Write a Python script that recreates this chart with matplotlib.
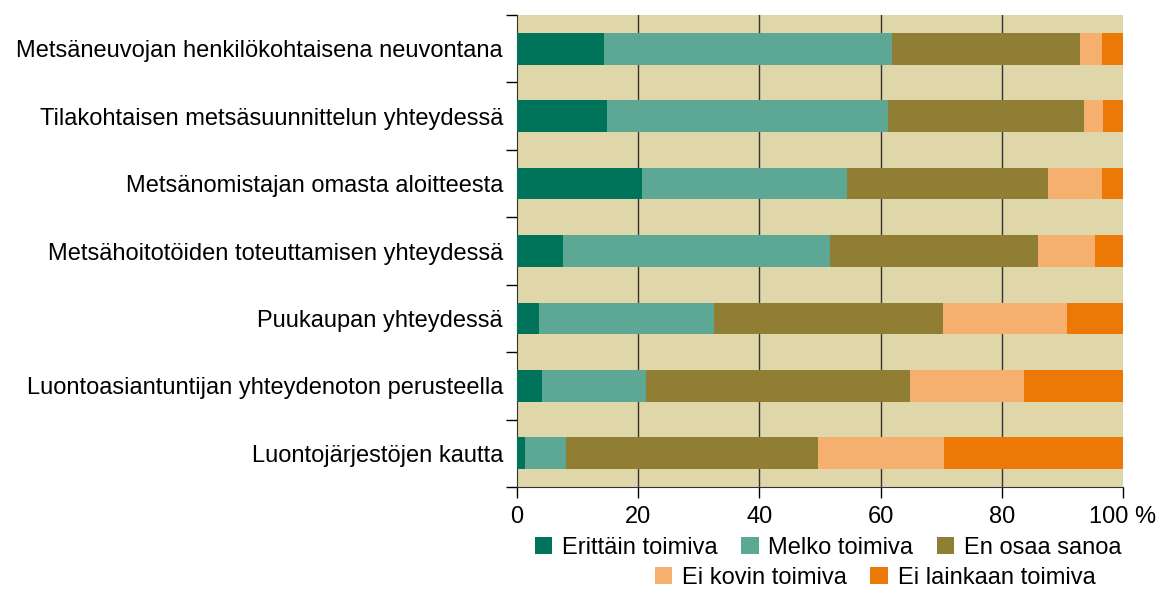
import matplotlib.pyplot as plt
import numpy as np
from matplotlib.patches import Patch

plt.rcParams['font.family'] = ['Liberation Sans', 'DejaVu Sans']

# kategoriat ylhäältä alas
categories = [
    'Metsäneuvojan henkilökohtaisena neuvontana',
    'Tilakohtaisen metsäsuunnittelun yhteydessä',
    'Metsänomistajan omasta aloitteesta',
    'Metsähoitotöiden toteuttamisen yhteydessä',
    'Puukaupan yhteydessä',
    'Luontoasiantuntijan yhteydenoton perusteella',
    'Luontojärjestöjen kautta',
]
series_names = ['Erittäin toimiva', 'Melko toimiva', 'En osaa sanoa',
                'Ei kovin toimiva', 'Ei lainkaan toimiva']
erittain = [14.4, 14.8, 20.6, 7.6, 3.6, 4.1, 1.4]
melko = [47.5, 46.4, 33.8, 44.0, 28.9, 17.2, 6.7]
en_osaa = [31.0, 32.4, 33.2, 34.3, 37.8, 43.5, 41.5]
ei_kovin = [3.6, 3.1, 8.9, 9.4, 20.4, 18.9, 20.9]
ei_lainkaan = [3.5, 3.3, 3.5, 4.7, 9.3, 16.3, 29.5]
colors = ['#00745a', '#5da894', '#8f7e34', '#f5b070', '#ec7805']
x_ticks = [0, 20, 40, 60, 80, 100]
x_ticklabels = ['0', '20', '40', '60', '80', '100 %']

data = [erittain, melko, en_osaa, ei_kovin, ei_lainkaan]
y = np.arange(len(categories))
fs = 17

fig = plt.figure(figsize=(11.66, 5.9), dpi=100)
ax = fig.add_axes([517/1166, 1-487/590, (1123-517)/1166, (487-15)/590])
ax.set_facecolor('#dfd7a9')

left = np.zeros(len(categories))
for vals, c, name in zip(data, colors, series_names):
    ax.barh(y, vals, left=left, height=0.47, color=c, label=name, zorder=3)
    left += np.array(vals)

ax.set_xlim(0, 100)
ax.set_ylim(len(categories) - 0.5, -0.5)

# pystyviivat
for gx in x_ticks[1:-1]:
    ax.axvline(gx, color='#333333', lw=1, zorder=1)

ax.set_xticks(x_ticks)
ax.set_xticklabels(x_ticklabels, fontsize=fs)
ax.tick_params(axis='x', length=8, width=1, pad=6)

# rajaviivat tikkeinä ja nimet keskellä
ax.set_yticks(np.arange(-0.5, len(categories), 1.0))
ax.set_yticklabels([])
ax.tick_params(axis='y', which='major', length=8, width=1)
ax.set_yticks(y, minor=True)
ax.set_yticklabels(categories, minor=True, fontsize=fs)
ax.tick_params(axis='y', which='minor', length=0, pad=10)

for s in ['top', 'right']:
    ax.spines[s].set_visible(False)
ax.spines['left'].set_color('#333333')
ax.spines['bottom'].set_color('#333333')

handles = [Patch(facecolor=c) for c in colors]
fig.legend(handles[:3], series_names[:3], loc='center', ncol=3,
           bbox_to_anchor=(828/1166, 1-548/590), frameon=False,
           fontsize=fs, handlelength=0.75, handleheight=0.75,
           handletextpad=0.4, columnspacing=1.0, borderpad=0)
fig.legend(handles[3:], series_names[3:], loc='center', ncol=2,
           bbox_to_anchor=(875/1166, 1-578/590), frameon=False,
           fontsize=fs, handlelength=0.75, handleheight=0.75,
           handletextpad=0.4, columnspacing=1.0, borderpad=0)

fig.savefig('out.png', dpi=100)
